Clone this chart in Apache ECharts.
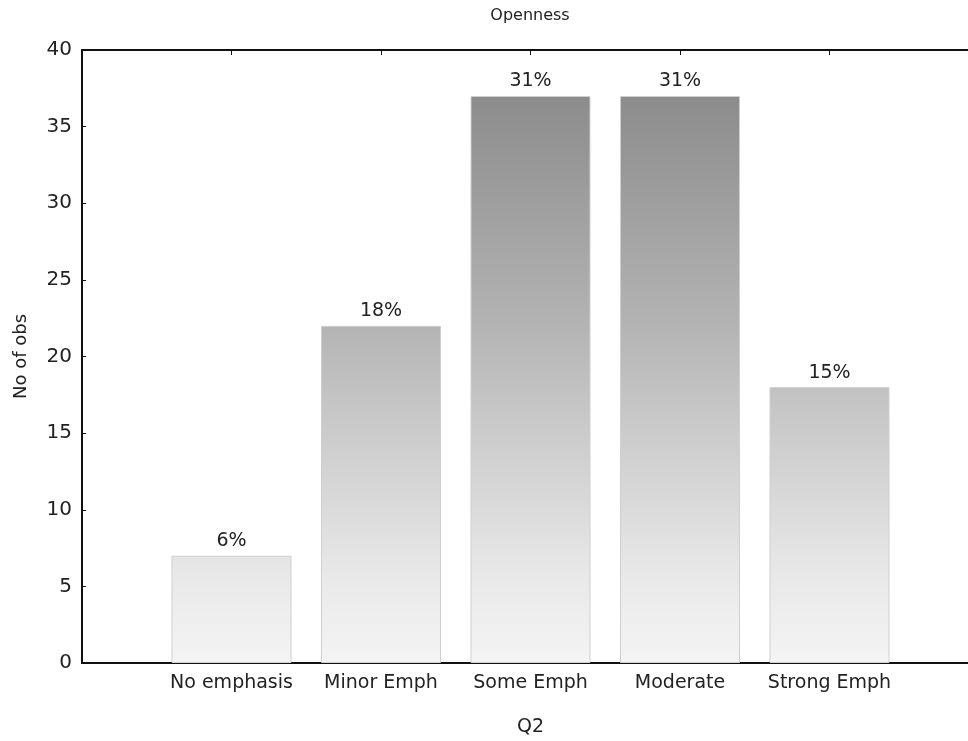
<!DOCTYPE html>
<html>
<head>
<meta charset="utf-8">
<title>Openness</title>
<script src="https://cdn.jsdelivr.net/npm/echarts@6/dist/echarts.min.js"></script>
<style>
  html, body { margin: 0; padding: 0; background: #fff; }
  #main { width: 968px; height: 741px; }
</style>
</head>
<body>
<div id="main"></div>
<script>
// data
const categories = ['No emphasis', 'Minor Emph', 'Some Emph', 'Moderate', 'Strong Emph'];
const counts = [7, 22, 37, 37, 18];
const percentLabels = ['6%', '18%', '31%', '31%', '15%'];
const yTicks = { min: 0, max: 40, interval: 5 };

// the axis runs one empty slot either side of the bars
const axisCats = [''].concat(categories, ['']);
const barData = [null].concat(counts.map(function (v, i) {
  return { value: v, pct: percentLabels[i] };
}), [null]);

const font = 'DejaVu Sans, Liberation Sans, sans-serif';
const chart = echarts.init(document.getElementById('main'));

// shading is tied to the plot, so taller bars get darker tops
const shade = new echarts.graphic.LinearGradient(0, 96, 0, 663, [
  { offset: 0, color: '#8c8c8c' },
  { offset: 0.4, color: '#b3b3b3' },
  { offset: 0.55, color: '#c6c6c6' },
  { offset: 0.85, color: '#e9e9e9' },
  { offset: 1, color: '#f4f4f4' }
], true);

const axisLine = { show: true, lineStyle: { color: '#111', width: 2 } };

chart.setOption({
  backgroundColor: '#fff',
  animation: false,
  title: {
    text: 'Openness',
    left: 525,
    top: 3,
    textAlign: 'center',
    textStyle: { fontFamily: font, fontSize: 16, fontWeight: 'normal', color: '#222' }
  },
  // the frame runs past the right edge of the picture
  grid: { left: 82, top: 50, height: 613, width: 897, outerBoundsMode: 'none' },
  xAxis: [
    {
      type: 'category',
      data: axisCats,
      boundaryGap: false,
      name: 'Q2',
      nameLocation: 'middle',
      nameGap: 55,
      nameTextStyle: { fontFamily: font, fontSize: 19, color: '#222' },
      axisLine: axisLine,
      axisTick: { inside: true, length: 5, lineStyle: { color: '#111' } },
      axisLabel: { fontFamily: font, fontSize: 19, color: '#222', margin: 11, interval: 0 },
      splitLine: { show: false }
    },
    {
      type: 'category',
      data: axisCats,
      boundaryGap: false,
      position: 'top',
      axisLine: axisLine,
      axisTick: { inside: true, length: 5, lineStyle: { color: '#111' } },
      axisLabel: { show: false },
      splitLine: { show: false }
    }
  ],
  yAxis: {
    type: 'value',
    min: yTicks.min,
    max: yTicks.max,
    interval: yTicks.interval,
    name: 'No of obs',
    nameLocation: 'middle',
    nameGap: 52,
    nameTextStyle: { fontFamily: font, fontSize: 18, color: '#222' },
    axisLine: axisLine,
    axisTick: { show: true, inside: true, length: 4, lineStyle: { color: '#111' } },
    axisLabel: { fontFamily: font, fontSize: 20, color: '#222', margin: 10 },
    splitLine: { show: false }
  },
  series: [{
    type: 'bar',
    data: barData,
    barWidth: 120,
    itemStyle: { color: shade, borderColor: '#cfcfcf', borderWidth: 1 },
    label: {
      show: true,
      position: 'top',
      distance: 5,
      fontFamily: font,
      fontSize: 19,
      color: '#222',
      formatter: function (p) { return p.data ? p.data.pct : ''; }
    }
  }]
});
</script>
</body>
</html>
